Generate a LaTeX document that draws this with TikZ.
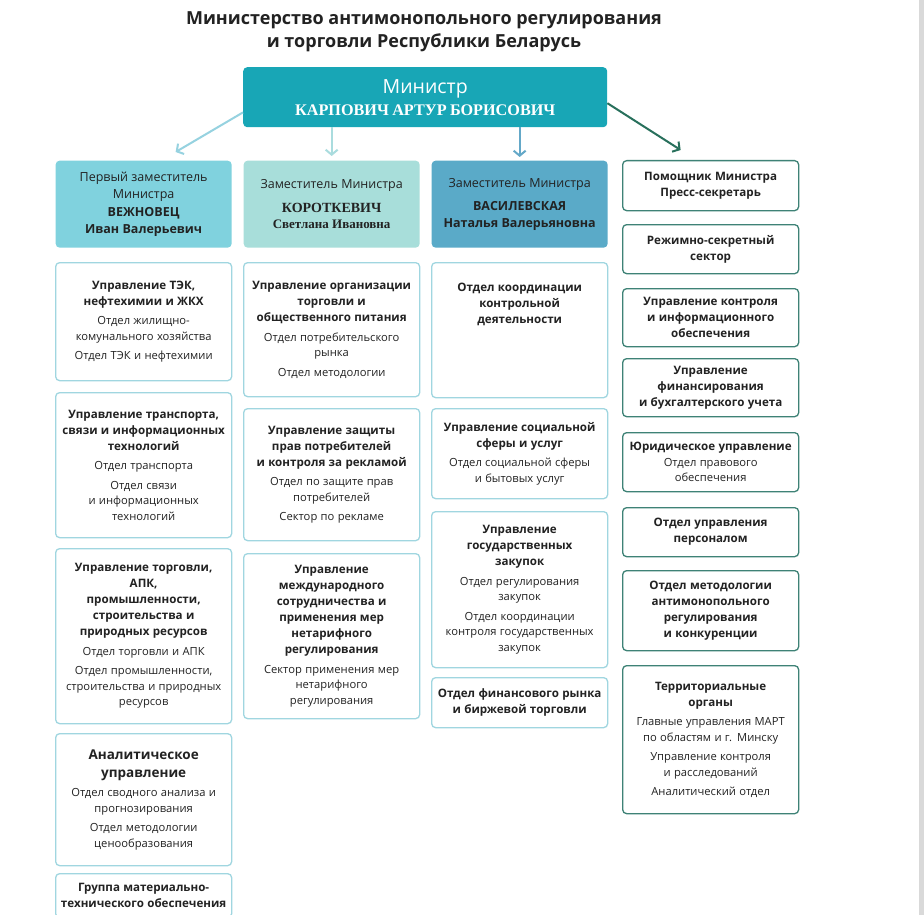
\documentclass[tikz,border=0pt]{standalone}
\usepackage{fontspec}
\setmainfont{Open Sans}
\newfontfamily\srf{Liberation Serif}
\usetikzlibrary{arrows.meta}
\definecolor{ink}{RGB}{34,34,34}
\definecolor{mint}{RGB}{24,166,182}
\definecolor{headA}{RGB}{128,210,222}
\definecolor{headB}{RGB}{168,222,218}
\definecolor{headC}{RGB}{90,170,200}
\definecolor{cyanline}{RGB}{160,214,224}
\definecolor{greenline}{RGB}{62,130,118}
\definecolor{arrA}{RGB}{150,210,224}
\definecolor{arrB}{RGB}{170,220,222}
\definecolor{arrC}{RGB}{100,168,200}
\definecolor{arrD}{RGB}{40,112,92}
\newcommand{\boxhd}[1]{{\fontsize{11.6}{16}\selectfont\bfseries #1\par}}
\newcommand{\boxsub}[1]{\vspace{4pt}{\fontsize{11.2}{15.5}\selectfont #1\par}}
\begin{document}
\begin{tikzpicture}[x=1pt,y=-1pt,
cbox/.style={draw=cyanline,line width=1.3pt,rounded corners=4pt,fill=white,anchor=north west,text width=172pt,inner xsep=2pt,align=center,text=ink},
gbox/.style={cbox,draw=greenline},
hbox/.style={cbox,draw=none,minimum height=87pt},
arr/.style={line width=2pt,-{Straight Barb[length=5pt,width=12pt]}}]
\useasboundingbox(0,0)rectangle(924,915);
\fill[white](0,0)rectangle(924,915);
\fill[gray!30](919,0)rectangle(924,915);
% title and minister
\node[align=center,text=ink,font=\fontsize{18}{23}\selectfont\bfseries](title)at(424,32){Министерство антимонопольного регулирования\\и торговли Республики Беларусь};
\node[anchor=north west,fill=mint,rounded corners=4pt,minimum width=364pt,minimum height=60pt,text width=350pt,align=center,text=white](min)at(243,67){{\fontsize{19.5}{21}\selectfont Министр\par}{\srf\bfseries\fontsize{16.2}{22}\selectfont КАРПОВИЧ АРТУР БОРИСОВИЧ\par}};
% deputies
\node[hbox,fill=headA](h1)at(55,160){{\fontsize{12.5}{16.5}\selectfont Первый заместитель\\Министра\par}\vspace{1pt}{\fontsize{12.5}{17}\selectfont\bfseries ВЕЖНОВЕЦ\\Иван Валерьевич\par}};
\node[hbox,fill=headB](h2)at(243,160){{\fontsize{12.5}{16}\selectfont Заместитель Министра\par}\vspace{8pt}{\srf\bfseries\fontsize{14}{16}\selectfont КОРОТКЕВИЧ\par\fontsize{13}{16}\selectfont Светлана Ивановна\par}};
\node[hbox,fill=headC](h3)at(431,160){{\fontsize{12.5}{16}\selectfont Заместитель Министра\par}\vspace{7pt}{\fontsize{12.5}{16.5}\selectfont\bfseries ВАСИЛЕВСКАЯ\\Наталья Валерьяновна\par}};
% column 1
\node[cbox,minimum height=118pt](a1)at(55,262){\boxhd{Управление ТЭК,\\нефтехимии и ЖКХ}\boxsub{Отдел жилищно-\\комунального хозяйства}\boxsub{Отдел ТЭК и нефтехимии}};
\node[cbox,minimum height=145pt](a2)at(55,392){\boxhd{Управление транспорта,\\связи и информационных\\технологий}\boxsub{Отдел транспорта}\boxsub{Отдел связи\\и информационных\\технологий}};
\node[cbox,minimum height=175pt](a3)at(55,548){\boxhd{Управление торговли,\\АПК,\\промышленности,\\строительства и\\природных ресурсов}\boxsub{Отдел торговли и АПК}\boxsub{Отдел промышленности,\\строительства и природных\\ресурсов}};
\node[cbox,minimum height=132pt](a4)at(55,733){{\fontsize{13.5}{18}\selectfont\bfseries Аналитическое\\управление\par}\boxsub{Отдел сводного анализа и\\прогнозирования}\boxsub{Отдел методологии\\ценообразования}};
\node[cbox,minimum height=44pt](a5)at(55,873){\boxhd{Группа материально-\\технического обеспечения}};
% column 2
\node[cbox,minimum height=134pt](b1)at(243,262){\boxhd{Управление организации\\торговли и\\общественного питания}\boxsub{Отдел потребительского\\рынка}\boxsub{Отдел методологии}};
\node[cbox,minimum height=132pt](b2)at(243,408){\boxhd{Управление защиты\\прав потребителей\\и контроля за рекламой}\boxsub{Отдел по защите прав\\потребителей}\boxsub{Сектор по рекламе}};
\node[cbox,minimum height=165pt](b3)at(243,553){\boxhd{Управление\\международного\\сотрудничества и\\применения мер\\нетарифного\\регулирования}\boxsub{Сектор применения мер\\нетарифного\\регулирования}};
% column 3
\node[cbox,minimum height=135pt](c1)at(431,262){\boxhd{Отдел координации\\контрольной\\деятельности}\rule{0pt}{50pt}};
\node[cbox,minimum height=90pt](c2)at(431,408){\boxhd{Управление социальной\\сферы и услуг}\boxsub{Отдел социальной сферы\\и бытовых услуг}};
\node[cbox,minimum height=156pt](c3)at(431,511){\boxhd{Управление\\государственных\\закупок}\boxsub{Отдел регулирования\\закупок}\boxsub{Отдел координации\\контроля государственных\\закупок}};
\node[cbox,minimum height=50pt](c4)at(431,677){\boxhd{Отдел финансового рынка\\и биржевой торговли}};
% column 4
\node[gbox,minimum height=50pt](g1)at(622,160){\boxhd{Помощник Министра\\Пресс-секретарь}};
\node[gbox,minimum height=49pt](g2)at(622,224){\boxhd{Режимно-секретный\\сектор}};
\node[gbox,minimum height=58pt](g3)at(622,288){\boxhd{Управление контроля\\и информационного\\обеспечения}};
\node[gbox,minimum height=58pt](g4)at(622,358){\boxhd{Управление\\финансирования\\и бухгалтерского учета}};
\node[gbox,minimum height=59pt](g5)at(622,432){\boxhd{Юридическое управление}\vspace{-4pt}\boxsub{Отдел правового\\обеспечения}};
\node[gbox,minimum height=49pt](g6)at(622,507){\boxhd{Отдел управления\\персоналом}};
\node[gbox,minimum height=80pt](g7)at(622,570){\boxhd{Отдел методологии\\антимонопольного\\регулирования\\и конкуренции}};
\node[gbox,minimum height=148pt](g8)at(622,665){\boxhd{Территориальные\\органы}\boxsub{Главные управления МАРТ\\по областям и г. Минску}\boxsub{Управление контроля\\и расследований}\boxsub{Аналитический отдел}};
% arrows
\draw[arr,draw=arrA]([yshift=15pt]min.south west)--([xshift=32pt,yshift=8pt]h1.north);
\draw[arr,draw=arrB](min.south -| h2.north)--([yshift=4pt]h2.north);
\draw[arr,draw=arrC](min.south -| h3.north)--([yshift=3pt]h3.north);
\draw[arr,draw=arrD]([yshift=-6pt]min.east)--([xshift=-30pt,yshift=10pt]g1.north);
\end{tikzpicture}
\end{document}
